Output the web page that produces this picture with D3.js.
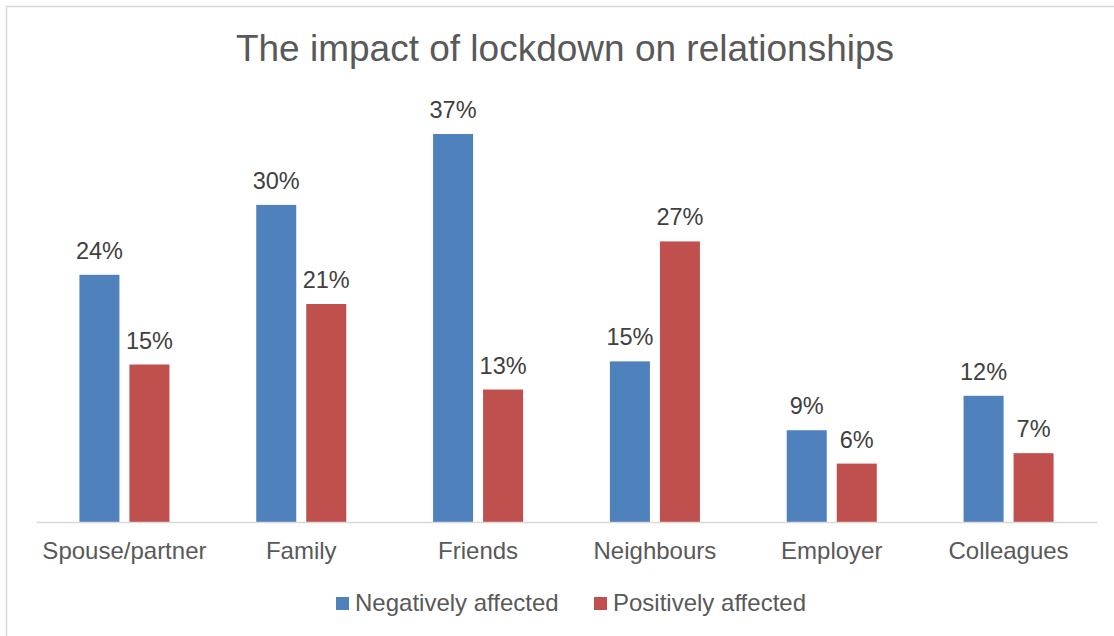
<!DOCTYPE html>
<html>
<head>
<meta charset="utf-8">
<script src="https://cdn.jsdelivr.net/npm/d3@7"></script>
<style>
  body { margin: 0; background: #fff; }
  svg { display: block; font-family: "Liberation Sans", Arial, sans-serif; }
</style>
</head>
<body>
<div id="chart"></div>
<script>
const categories = ['Spouse/partner', 'Family', 'Friends', 'Neighbours', 'Employer', 'Colleagues'];
const seriesNames = ['Negatively affected', 'Positively affected'];
const negatively = [23.7, 30.4, 37.2, 15.4, 8.8, 12.1];
const positively = [15.1, 20.9, 12.7, 26.9, 5.6, 6.6];
const colors = ['#4f81bd', '#c0504d'];

const width = 1114, height = 636;
const baseY = 522;

const rows = categories.map((c, i) => ({
  cat: c,
  values: [
    { key: seriesNames[0], value: negatively[i] },
    { key: seriesNames[1], value: positively[i] }
  ]
}));

const svg = d3.select('#chart').append('svg')
  .attr('width', width)
  .attr('height', height);

// chart frame
svg.append('rect')
  .attr('x', 6.5).attr('y', 6.5)
  .attr('width', width + 10).attr('height', height + 10)
  .attr('fill', '#fff')
  .attr('stroke', '#d9d9d9')
  .attr('stroke-width', 1.5);

svg.append('text')
  .attr('x', 565)
  .attr('y', 61)
  .attr('text-anchor', 'middle')
  .attr('font-size', 37)
  .attr('fill', '#595959')
  .text('The impact of lockdown on relationships');

const x = d3.scaleBand()
  .domain(categories)
  .range([36, 1097]);

const xSub = d3.scaleBand()
  .domain(seriesNames)
  .range([0, x.bandwidth()])
  .paddingInner(0.2)
  .paddingOuter(0.868);

const y = d3.scaleLinear()
  .domain([0, 40])
  .range([baseY, baseY - 417.2]);

const color = d3.scaleOrdinal().domain(seriesNames).range(colors);

const groups = svg.selectAll('.group')
  .data(rows)
  .enter()
  .append('g')
  .attr('class', 'group')
  .attr('transform', d => `translate(${x(d.cat)},0)`);

groups.selectAll('rect')
  .data(d => d.values)
  .enter()
  .append('rect')
  .attr('x', d => xSub(d.key))
  .attr('y', d => y(d.value))
  .attr('width', xSub.bandwidth())
  .attr('height', d => baseY - y(d.value))
  .attr('fill', d => color(d.key));

groups.selectAll('.label')
  .data(d => d.values)
  .enter()
  .append('text')
  .attr('class', 'label')
  .attr('x', d => xSub(d.key) + xSub.bandwidth() / 2)
  .attr('y', d => y(d.value) - 16)
  .attr('text-anchor', 'middle')
  .attr('font-size', 23.5)
  .attr('fill', '#404040')
  .text(d => Math.round(d.value) + '%');

// x axis
const xAxis = svg.append('g')
  .attr('transform', `translate(0,${baseY})`)
  .call(d3.axisBottom(x).tickSize(0).tickPadding(37));
xAxis.select('.domain').attr('stroke', '#d9d9d9').attr('stroke-width', 1.5);
xAxis.selectAll('text')
  .attr('font-size', 24)
  .attr('font-family', '"Liberation Sans", Arial, sans-serif')
  .attr('fill', '#595959')
  .attr('dy', 0);

// legend
const legendX = [336, 594];
const legend = svg.selectAll('.legend')
  .data(seriesNames)
  .enter()
  .append('g')
  .attr('class', 'legend')
  .attr('transform', (d, i) => `translate(${legendX[i]},597)`);

legend.append('rect')
  .attr('width', 13).attr('height', 13)
  .attr('fill', d => color(d));

legend.append('text')
  .attr('x', 19)
  .attr('y', 14)
  .attr('font-size', 24)
  .attr('fill', '#595959')
  .text(d => d);
</script>
</body>
</html>
